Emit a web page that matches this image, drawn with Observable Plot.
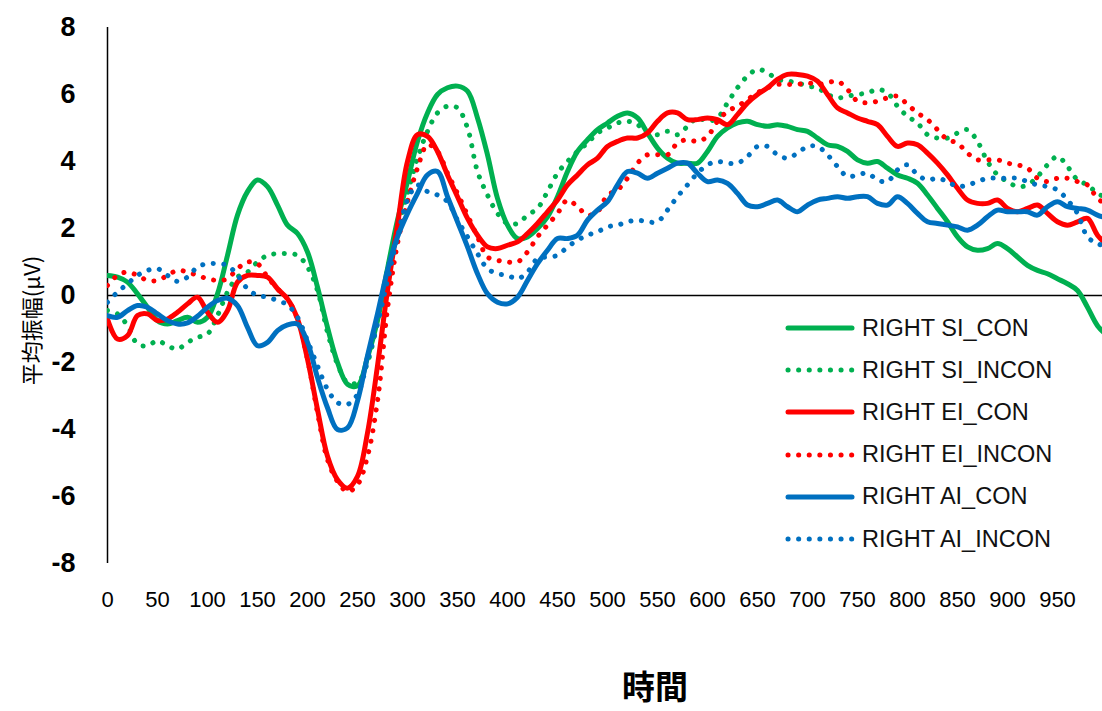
<!DOCTYPE html>
<html>
<head>
<meta charset="utf-8">
<script src="https://cdn.jsdelivr.net/npm/d3@7"></script>
<script src="https://cdn.jsdelivr.net/npm/@observablehq/plot@0.6"></script>
<style>
  html, body { margin: 0; padding: 0; background: #fff; }
  #wrap { position: relative; width: 1102px; height: 711px; overflow: hidden; }
  #legend { position: absolute; left: 785px; top: 307px; font-family: "Liberation Sans", Arial, sans-serif; font-size: 23.5px; color: #111; }
  .row { display: flex; align-items: center; height: 42.2px; white-space: nowrap; }
  .row svg { width: 70px; height: 10px; margin-right: 7px; overflow: visible; flex: none; }
</style>
</head>
<body>
<div id="wrap"><div id="legend"></div></div>
<script>
// Time axis (ms), sampled every 10 ms
const times = [0,10,20,30,40,50,60,70,80,90,100,110,120,130,140,150,160,170,180,190,200,210,220,230,240,250,260,270,280,290,300,310,320,330,340,350,360,370,380,390,400,410,420,430,440,450,460,470,480,490,500,510,520,530,540,550,560,570,580,590,600,610,620,630,640,650,660,670,680,690,700,710,720,730,740,750,760,770,780,790,800,810,820,830,840,850,860,870,880,890,900,910,920,930,940,950,960,970,980,990,1000];

// Mean amplitude (µV) per condition
const siCon = [0.6,0.55,0.4,0.05,-0.35,-0.75,-0.85,-0.75,-0.65,-0.8,-0.65,0.05,1.2,2.4,3.1,3.45,3.25,2.7,2.1,1.85,1.3,0.25,-0.95,-2.0,-2.65,-2.7,-1.85,-0.75,0.8,2.25,3.4,4.6,5.45,6.0,6.2,6.25,6.1,5.3,4.2,2.9,2.1,1.7,1.75,2.0,2.35,2.95,3.7,4.3,4.65,4.95,5.15,5.35,5.45,5.3,4.85,4.4,4.1,3.95,3.95,3.95,4.3,4.75,5.0,5.15,5.2,5.1,5.05,5.1,5.05,4.95,4.9,4.7,4.5,4.45,4.3,4.05,3.95,4.0,3.8,3.6,3.5,3.35,3.0,2.6,2.2,1.75,1.45,1.35,1.4,1.55,1.4,1.15,0.9,0.75,0.65,0.5,0.35,0.15,-0.35,-0.9,-1.2];
const siIncon = [-0.45,-0.55,-0.9,-1.45,-1.5,-1.35,-1.5,-1.6,-1.4,-1.25,-1.15,-0.6,0.1,0.55,0.7,1.0,1.2,1.25,1.25,1.2,0.85,0.15,-1.1,-2.05,-2.6,-2.6,-2.0,-0.75,0.8,1.95,3.05,4.1,4.9,5.45,5.65,5.6,5.0,3.7,3.0,2.45,2.15,2.15,2.4,2.6,3.1,3.65,4.0,4.3,4.55,4.85,5.0,5.15,5.2,5.1,4.85,4.8,4.9,4.8,5.05,5.3,5.2,5.3,5.75,6.2,6.55,6.75,6.65,6.45,6.4,6.35,6.25,6.2,6.0,5.9,5.95,6.0,6.05,6.15,6.05,5.65,5.35,5.15,4.8,4.7,4.7,4.85,4.95,4.6,4.0,3.6,3.4,3.25,3.3,3.55,3.9,4.15,3.85,3.45,3.3,3.05,2.9];
const eiCon = [-0.7,-1.3,-1.2,-0.6,-0.55,-0.75,-0.7,-0.5,-0.25,-0.05,-0.5,-0.8,-0.45,0.4,0.6,0.6,0.55,0.2,-0.1,-0.7,-1.9,-3.4,-4.8,-5.5,-5.75,-5.4,-4.1,-2.1,0.15,2.1,4.0,4.8,4.75,4.3,3.6,2.95,2.3,1.8,1.45,1.4,1.5,1.6,1.85,2.15,2.5,2.85,3.3,3.6,3.9,4.1,4.45,4.6,4.7,4.7,4.85,5.2,5.45,5.45,5.25,5.25,5.3,5.25,5.1,5.4,5.75,6.0,6.2,6.45,6.6,6.6,6.55,6.4,6.0,5.6,5.45,5.3,5.2,5.1,4.75,4.45,4.55,4.5,4.25,3.95,3.6,3.2,2.85,2.75,2.75,2.85,2.6,2.5,2.6,2.7,2.45,2.2,2.1,2.2,2.3,1.8,1.5];
const eiIncon = [0.3,0.6,0.7,0.6,0.45,0.45,0.6,0.75,0.7,0.6,0.5,0.45,0.5,0.8,1.0,0.95,0.55,0.2,-0.1,-0.7,-1.9,-3.5,-4.9,-5.55,-5.85,-5.65,-4.8,-3.15,-0.4,1.55,2.8,3.8,4.5,4.3,3.65,3.05,2.4,1.75,1.15,1.05,1.0,1.0,1.3,1.75,2.1,2.45,2.85,2.65,2.4,2.5,3.0,3.15,3.5,3.95,4.2,4.2,4.2,4.55,4.65,4.6,4.75,5.2,5.5,5.65,5.85,6.05,6.2,6.3,6.3,6.3,6.35,6.3,6.35,6.4,6.15,5.8,5.75,5.8,5.9,5.95,5.7,5.45,5.25,4.95,4.65,4.55,4.25,4.05,4.05,4.05,3.95,3.9,3.8,3.5,3.4,3.5,3.5,3.4,3.3,2.9,2.7];
const aiCon = [-0.6,-0.65,-0.45,-0.3,-0.35,-0.55,-0.75,-0.85,-0.82,-0.62,-0.35,-0.15,-0.08,-0.3,-0.95,-1.5,-1.4,-1.05,-0.88,-0.85,-1.4,-2.45,-3.35,-4.0,-3.95,-3.15,-1.8,-0.55,0.75,1.75,2.45,3.05,3.6,3.7,2.95,2.2,1.45,0.65,0.05,-0.2,-0.25,-0.05,0.45,0.95,1.35,1.7,1.7,1.8,2.25,2.55,2.8,3.3,3.7,3.65,3.5,3.65,3.8,3.95,3.95,3.65,3.4,3.45,3.35,3.05,2.7,2.65,2.75,2.85,2.65,2.5,2.7,2.85,2.9,2.95,2.9,2.95,2.95,2.75,2.7,2.95,2.75,2.45,2.2,2.15,2.1,2.05,1.95,2.1,2.35,2.55,2.5,2.5,2.5,2.4,2.65,2.8,2.65,2.6,2.55,2.4,2.3];
const aiIncon = [-0.2,0.1,0.35,0.6,0.75,0.8,0.6,0.42,0.55,0.85,0.95,0.95,0.9,0.6,0.2,0.0,-0.05,-0.15,-0.28,-0.65,-1.35,-2.1,-2.8,-3.2,-3.25,-2.95,-1.95,-0.85,0.45,1.75,2.85,3.3,3.1,3.0,2.8,2.25,1.75,1.25,0.8,0.65,0.6,0.5,0.7,1.1,1.15,1.2,1.45,1.65,1.8,1.9,2.05,2.1,2.2,2.25,2.2,2.2,2.55,2.95,3.3,3.65,3.9,4.0,3.95,3.95,4.15,4.45,4.45,4.2,4.1,4.25,4.45,4.45,4.2,3.85,3.55,3.6,3.65,3.45,3.4,3.75,3.9,3.6,3.45,3.5,3.4,3.25,3.3,3.4,3.5,3.5,3.5,3.5,3.4,3.3,3.25,3.15,2.85,2.45,1.75,1.55,1.45];

const seriesNames = ["RIGHT SI_CON", "RIGHT SI_INCON", "RIGHT EI_CON", "RIGHT EI_INCON", "RIGHT AI_CON", "RIGHT AI_INCON"];
const seriesValues = [siCon, siIncon, eiCon, eiIncon, aiCon, aiIncon];
const seriesColors = ["#00B050", "#00B050", "#FF0000", "#FF0000", "#0070C0", "#0070C0"];
const seriesDotted = [false, true, false, true, false, true];

const xTicks = [0,50,100,150,200,250,300,350,400,450,500,550,600,650,700,750,800,850,900,950];
const yTicks = [-8,-6,-4,-2,0,2,4,6,8];

const dotDash = "0.1 10.5";
const cjkFont = "'Noto Sans CJK TC', 'Noto Sans CJK SC', sans-serif";

const lineMarks = seriesNames.map((name, i) => {
  const rows = times.map((t, j) => ({t, v: seriesValues[i][j]}));
  return Plot.line(rows, {
    x: "t", y: "v",
    stroke: seriesColors[i],
    strokeWidth: 5,
    strokeDasharray: seriesDotted[i] ? dotDash : null,
    strokeLinecap: "round",
    strokeLinejoin: "round",
    curve: "catmull-rom",
    clip: true
  });
});

const chart = Plot.plot({
  width: 1102,
  height: 711,
  marginLeft: 107,
  marginRight: 0,
  marginTop: 27,
  marginBottom: 148,
  style: { fontFamily: "'Liberation Sans', Arial, sans-serif", color: "#000", background: "#fff" },
  x: { domain: [0, 995] },
  y: { domain: [-8, 8] },
  marks: [
    Plot.ruleY([0], { stroke: "#000", strokeWidth: 1.5 }),
    Plot.ruleX([0], { stroke: "#000", strokeWidth: 1.5 }),
    ...lineMarks,
    Plot.axisX({
      ticks: xTicks, tickSize: 0, tickPadding: 28, label: null,
      tickFormat: d => String(d),
      fontSize: 22, fontFamily: "'Liberation Sans Narrow', 'Arial Narrow', sans-serif"
    }),
    Plot.axisY({
      ticks: yTicks, tickSize: 0, tickPadding: 32, label: null,
      tickFormat: d => String(d),
      fontSize: 27, fontWeight: "bold"
    }),
    Plot.text(["平均振幅(μV)"], {
      frameAnchor: "left", textAnchor: "middle", dx: -75, dy: 25, rotate: -90,
      fontSize: 22, fontFamily: cjkFont, fill: "#000"
    }),
    Plot.text(["時間"], {
      frameAnchor: "bottom", dx: 50, dy: 135,
      fontSize: 33, fontWeight: "bold", fontFamily: cjkFont, fill: "#000"
    })
  ]
});

const wrap = document.getElementById("wrap");
wrap.insertBefore(chart, wrap.firstChild);

// Legend rows: swatch line + series name
const legend = document.getElementById("legend");
seriesNames.forEach((name, i) => {
  const row = document.createElement("div");
  row.className = "row";
  const ns = "http://www.w3.org/2000/svg";
  const svg = document.createElementNS(ns, "svg");
  const ln = document.createElementNS(ns, "line");
  ln.setAttribute("x1", 3); ln.setAttribute("x2", 67);
  ln.setAttribute("y1", 5); ln.setAttribute("y2", 5);
  ln.setAttribute("stroke", seriesColors[i]);
  ln.setAttribute("stroke-width", 5);
  ln.setAttribute("stroke-linecap", "round");
  if (seriesDotted[i]) ln.setAttribute("stroke-dasharray", dotDash);
  svg.appendChild(ln);
  const label = document.createElement("span");
  label.textContent = name;
  row.appendChild(svg);
  row.appendChild(label);
  legend.appendChild(row);
});
</script>
</body>
</html>
